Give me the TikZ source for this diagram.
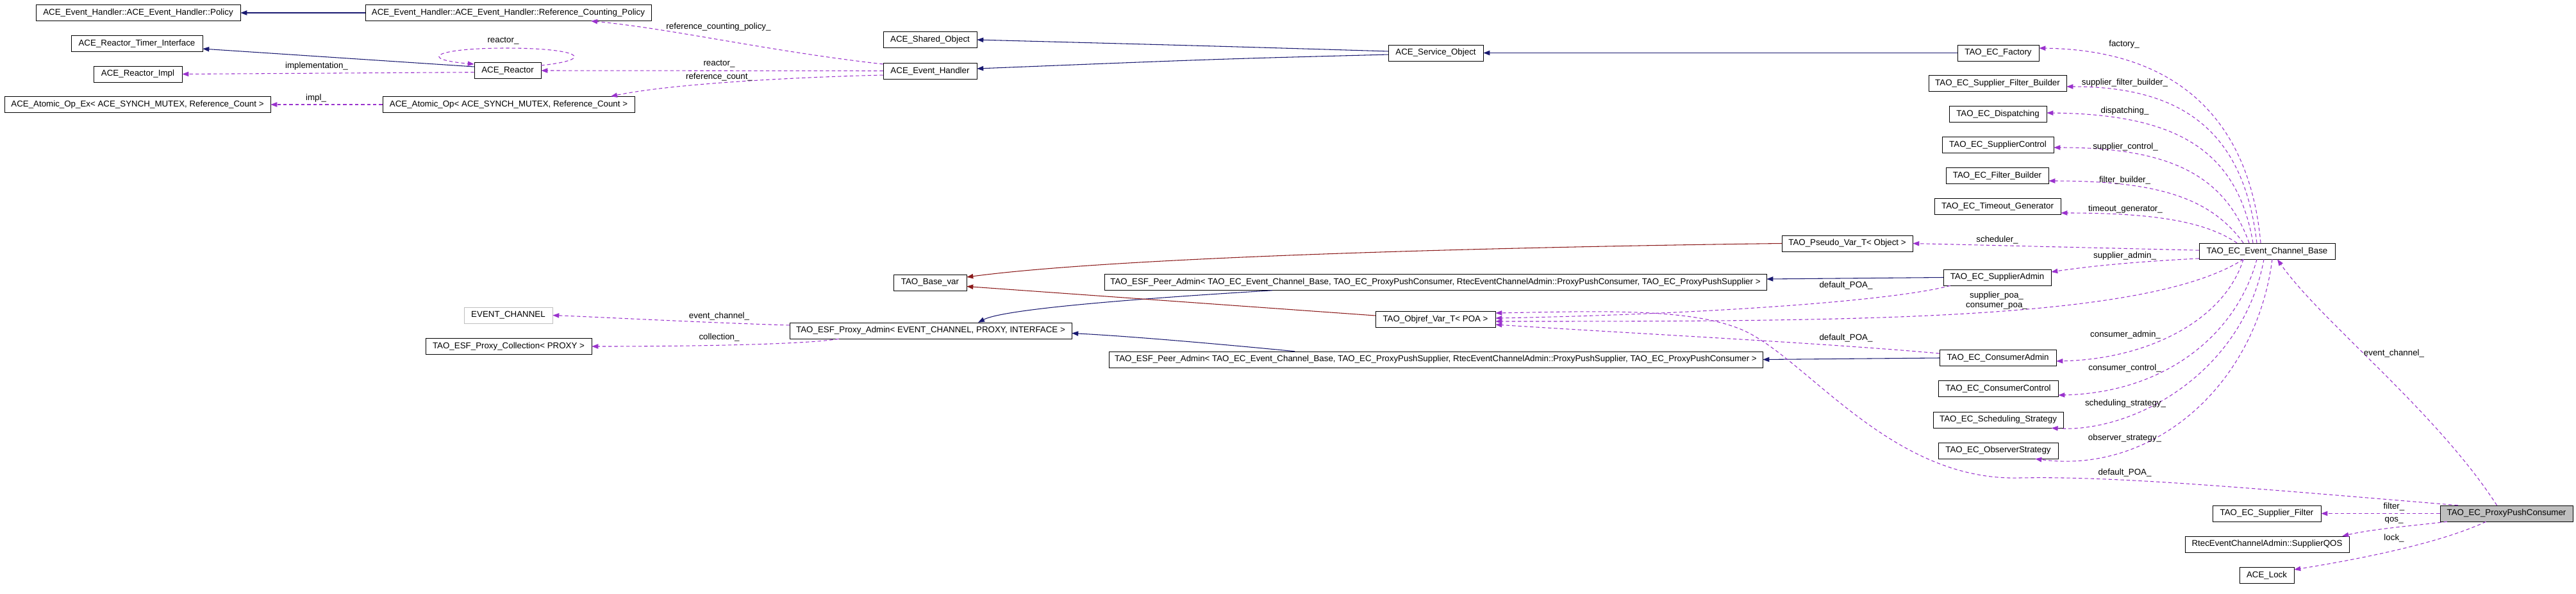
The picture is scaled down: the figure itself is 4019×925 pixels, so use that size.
\documentclass[tikz,border=0pt]{standalone}
\usepackage{fontspec}
\setmainfont{Liberation Sans}
\usetikzlibrary{arrows.meta}
\definecolor{inhblue}{HTML}{191970}
\definecolor{usepurple}{HTML}{9A32CD}
\definecolor{tplred}{HTML}{8B1A1A}
\definecolor{boxgrey}{HTML}{BFBFBF}

\begin{document}
\begin{tikzpicture}[x=0.75pt,y=-0.75pt,
  cls/.style={draw,fill=white,minimum height=18.75pt,inner sep=1pt,font=\fontsize{10}{12}\selectfont},
  lbl/.style={inner sep=0pt,font=\fontsize{10}{11.25}\selectfont,align=center},
  inherit/.style={->,>={Triangle[length=7.5pt,width=5.5pt]},color=inhblue,line width=0.8pt},
  templ/.style={->,>={Triangle[length=7.5pt,width=5.5pt]},color=tplred,line width=0.8pt},
  member/.style={->,>={Triangle[length=7.5pt,width=5.5pt]},color=usepurple,line width=0.8pt,dash pattern=on 4pt off 3pt}]
%\draw[help lines] (0,0) grid[step=100] (4019,925);
\path[use as bounding box,fill=white] (0,0) rectangle (4019,925);

\node[cls,minimum width=239.25pt] (POL) at (215.5,20) {ACE\_Event\_Handler::ACE\_Event\_Handler::Policy};
\node[cls,minimum width=334.5pt] (RCP) at (793,20) {ACE\_Event\_Handler::ACE\_Event\_Handler::Reference\_Counting\_Policy};
\node[cls,minimum width=153.75pt] (RTI) at (213.5,67.5) {ACE\_Reactor\_Timer\_Interface};
\node[cls,minimum width=78pt] (REA) at (792,110) {ACE\_Reactor};
\node[cls,minimum width=103.5pt] (RIM) at (215,115.5) {ACE\_Reactor\_Impl};
\node[cls,minimum width=311.25pt] (AOX) at (214.5,163) {ACE\_Atomic\_Op\_Ex< ACE\_SYNCH\_MUTEX, Reference\_Count >};
\node[cls,minimum width=294.75pt] (AOP) at (793.5,163) {ACE\_Atomic\_Op< ACE\_SYNCH\_MUTEX, Reference\_Count >};
\node[cls,minimum width=109.5pt] (SHO) at (1451,62) {ACE\_Shared\_Object};
\node[cls,minimum width=109.5pt] (EVH) at (1451,110.5) {ACE\_Event\_Handler};
\node[cls,minimum width=111pt] (SVC) at (2240,82.5) {ACE\_Service\_Object};
\node[cls,minimum width=95.25pt] (FAC) at (3117.5,82.5) {TAO\_EC\_Factory};
\node[cls,minimum width=161.25pt] (SFB) at (3116.5,130) {TAO\_EC\_Supplier\_Filter\_Builder};
\node[cls,minimum width=114pt] (DIS) at (3117,178) {TAO\_EC\_Dispatching};
\node[cls,minimum width=130.5pt] (SCT) at (3117,226) {TAO\_EC\_SupplierControl};
\node[cls,minimum width=120pt] (FLB) at (3116,274) {TAO\_EC\_Filter\_Builder};
\node[cls,minimum width=147.75pt] (TMG) at (3116.5,322) {TAO\_EC\_Timeout\_Generator};
\node[cls,minimum width=153pt] (PSV) at (2882,379.5) {TAO\_Pseudo\_Var\_T< Object >};
\node[cls,minimum width=159pt] (ECB) at (3537,391.5) {TAO\_EC\_Event\_Channel\_Base};
\node[cls,minimum width=85.5pt] (BVR) at (1451,440.5) {TAO\_Base\_var};
\node[cls,minimum width=774.75pt] (PA1) at (2239.5,440) {TAO\_ESF\_Peer\_Admin< TAO\_EC\_Event\_Channel\_Base, TAO\_EC\_ProxyPushConsumer, RtecEventChannelAdmin::ProxyPushConsumer, TAO\_EC\_ProxyPushSupplier >};
\node[cls,minimum width=126pt] (SAD) at (3116,432.5) {TAO\_EC\_SupplierAdmin};
\node[cls,draw=boxgrey,minimum width=103.5pt] (EVC) at (793,491.5) {EVENT\_CHANNEL};
\node[cls,minimum width=330pt] (PXA) at (1452,515.5) {TAO\_ESF\_Proxy\_Admin< EVENT\_CHANNEL, PROXY, INTERFACE >};
\node[cls,minimum width=140.25pt] (ORV) at (2239.5,498) {TAO\_Objref\_Var\_T< POA >};
\node[cls,minimum width=194.25pt] (PXC) at (793.5,540) {TAO\_ESF\_Proxy\_Collection< PROXY >};
\node[cls,minimum width=765pt] (PA2) at (2240,560.5) {TAO\_ESF\_Peer\_Admin< TAO\_EC\_Event\_Channel\_Base, TAO\_EC\_ProxyPushSupplier, RtecEventChannelAdmin::ProxyPushSupplier, TAO\_EC\_ProxyPushConsumer >};
\node[cls,minimum width=136.5pt] (CAD) at (3117,558) {TAO\_EC\_ConsumerAdmin};
\node[cls,minimum width=140.25pt] (CCT) at (3117.5,606) {TAO\_EC\_ConsumerControl};
\node[cls,minimum width=152.25pt] (SST) at (3117.5,654.5) {TAO\_EC\_Scheduling\_Strategy};
\node[cls,minimum width=140.25pt] (OBS) at (3117.5,702.5) {TAO\_EC\_ObserverStrategy};
\node[cls,minimum width=126.75pt] (SFL) at (3536.5,800.5) {TAO\_EC\_Supplier\_Filter};
\node[cls,fill=boxgrey,minimum width=155.25pt] (PPC) at (3910.5,800.5) {TAO\_EC\_ProxyPushConsumer};
\node[cls,minimum width=192pt] (SQOS) at (3537,848.5) {RtecEventChannelAdmin::SupplierQOS};
\node[cls,minimum width=63.75pt] (LCK) at (3536.5,896.5) {ACE\_Lock};

% inheritance
\draw[inherit] (RCP.west) -- (POL.east);
\draw[inherit] ([yshift=4.5pt]REA.west) -- ([yshift=-6.4pt]RTI.east);
\draw[inherit] ([yshift=1.9pt]SVC.west) .. controls (1900,72) .. (SHO.east);
\draw[inherit] ([yshift=-1.9pt]SVC.west) .. controls (1900,92) .. ([yshift=2.6pt]EVH.east);
\draw[inherit] (FAC.west) -- (SVC.east);
\draw[inherit] ([xshift=-191pt]PA1.south) .. controls (1700,470) and (1560,485) .. ([xshift=55.5pt]PXA.north);
\draw[inherit] ([xshift=-165pt]PA2.north) .. controls (1900,536) and (1760,524) .. ([yshift=-3pt]PXA.east);
\draw[inherit] (SAD.west) -- ([yshift=3.75pt]PA1.east);
\draw[inherit] (CAD.west) -- (PA2.east);

% templates
\draw[templ] (PSV.west) .. controls (2350,385) and (1750,400) .. ([yshift=6.4pt]BVR.east);
\draw[templ] ([yshift=4.5pt]ORV.west) -- ([yshift=-4.5pt]BVR.east);

% members
\draw[member] ([yshift=7.9pt]EVH.west) .. controls (1200,80) and (1050,45) .. ([xshift=96.75pt]RCP.south);
\draw[member] (EVH.west) -- (REA.east);
\draw[member] ([yshift=-4.9pt]EVH.west) .. controls (1250,120) and (1050,130) .. ([xshift=119.6pt]AOP.north);
\draw[member] (AOP.west) -- (AOX.east);
\draw[member] ([yshift=-2pt]REA.west) -- (RIM.east);
\draw[member] ([yshift=6pt]REA.east) .. controls (935,92) and (900,75) .. (790,75)
    .. controls (680,75) and (650,92) .. ([yshift=7.5pt]REA.west);
\draw[member] ([yshift=6.4pt]PXA.west) .. controls (1100,503) and (950,495) .. (EVC.east);
\draw[member] ([xshift=57.75pt]PXA.south west) .. controls (1250,538) and (1050,540) .. (PXC.east);

\draw[member] ([xshift=-7.5pt]ECB.north) .. controls (3510,190) and (3400,78) .. ([yshift=5.6pt]FAC.east);
\draw[member] ([xshift=-12pt]ECB.north) .. controls (3500,200) and (3400,135) .. ([yshift=-3.75pt]SFB.east);
\draw[member] ([xshift=-16.5pt]ECB.north) .. controls (3490,230) and (3390,178) .. ([yshift=1.5pt]DIS.east);
\draw[member] ([xshift=-21pt]ECB.north) .. controls (3470,270) and (3380,230) .. ([yshift=-3pt]SCT.east);
\draw[member] ([xshift=-27.75pt]ECB.north) .. controls (3450,310) and (3370,282) .. ([yshift=-6pt]FLB.east);
\draw[member] ([xshift=-35.25pt]ECB.north) .. controls (3440,345) and (3360,332) .. ([yshift=-7.5pt]TMG.east);
\draw[member] ([yshift=1pt]ECB.west) -- (PSV.east);
\draw[member] ([yshift=-8.6pt]ECB.west) .. controls (3330,408) and (3260,415) .. ([yshift=6.4pt]SAD.east);
\draw[member] ([xshift=-27.75pt]ECB.south) .. controls (3350,500) and (2900,501) .. ([yshift=-2.25pt]ORV.east);
\draw[member] ([xshift=8.25pt]SAD.south west) .. controls (2950,470) and (2650,490) .. ([yshift=1.5pt]ORV.east);
\draw[member] ([yshift=5.25pt]CAD.west) .. controls (2850,535) and (2550,520) .. ([yshift=-6pt]ORV.east);
\draw[member] ([xshift=21pt]PPC.north west) .. controls (3500,760) and (3300,742) .. (3150,745)
    .. controls (2950,750) and (2820,560) .. (2720,515)
    .. controls (2640,480) and (2500,485) .. ([yshift=7.5pt]ORV.east);
\draw[member] ([xshift=-27.75pt]ECB.south) .. controls (3470,500) and (3350,560) .. ([yshift=-3.75pt]CAD.east);
\draw[member] ([xshift=-12pt]ECB.south) .. controls (3490,520) and (3380,612) .. ([yshift=-7.5pt]CCT.east);
\draw[member] ([xshift=-3.75pt]ECB.south) .. controls (3500,580) and (3330,675) .. ([xshift=-14pt]SST.south east);
\draw[member] ([xshift=6pt]ECB.south) .. controls (3520,600) and (3360,740) .. ([xshift=-27pt]OBS.south east);
\draw[member] ([xshift=-11.25pt]PPC.north) .. controls (3800,640) and (3620,500) .. ([xshift=12pt]ECB.south);
\draw[member] (PPC.west) -- (SFL.east);
\draw[member] ([xshift=8.25pt]PPC.south west) .. controls (3760,820) and (3700,825) .. ([xshift=-8.25pt]SQOS.north east);
\draw[member] ([xshift=-24pt]PPC.south) .. controls (3800,850) and (3660,875) .. ([yshift=6.4pt]LCK.east);

% labels
\begin{scope}[yshift=1.5pt]
\node[lbl] (Lrea) at (785,66) {reactor\_};
\node[lbl] (Limp) at (494,105) {implementation\_};
\node[lbl] (Limpl) at (493,155) {impl\_};
\node[lbl] (Lrcp) at (1121,44) {reference\_counting\_policy\_};
\node[lbl] (Lreb) at (1122,102) {reactor\_};
\node[lbl] (Lrcn) at (1122,122) {reference\_count\_};
\node[lbl] (Levc) at (1122,495) {event\_channel\_};
\node[lbl] (Lcol) at (1122,528) {collection\_};
\node[lbl] (Lfac) at (3314,71) {factory\_};
\node[lbl] (Lsfb) at (3315,131) {supplier\_filter\_builder\_};
\node[lbl] (Ldis) at (3315,175) {dispatching\_};
\node[lbl] (Lsct) at (3316,231) {supplier\_control\_};
\node[lbl] (Lflb) at (3315,283) {filter\_builder\_};
\node[lbl] (Ltmg) at (3316,328) {timeout\_generator\_};
\node[lbl] (Lsch) at (3116,376) {scheduler\_};
\node[lbl] (Lsad) at (3315,401) {supplier\_admin\_};
\node[lbl] (Lpoa) at (2880,447) {default\_POA\_};
\node[lbl] (Lspc) at (3115,471) {supplier\_poa\_\\consumer\_poa\_};
\node[lbl] (Lcad) at (3316,524) {consumer\_admin\_};
\node[lbl] (Lpob) at (2880,529) {default\_POA\_};
\node[lbl] (Lech) at (3735,553) {event\_channel\_};
\node[lbl] (Lcct) at (3315,576) {consumer\_control\_};
\node[lbl] (Lsst) at (3316,631) {scheduling\_strategy\_};
\node[lbl] (Lobs) at (3315,685) {observer\_strategy\_};
\node[lbl] (Lpoc) at (3315,739) {default\_POA\_};
\node[lbl] (Lflt) at (3735,792) {filter\_};
\node[lbl] (Lqos) at (3735,813) {qos\_};
\node[lbl] (Llck) at (3735,841) {lock\_};
\end{scope}
\end{tikzpicture}
\end{document}
